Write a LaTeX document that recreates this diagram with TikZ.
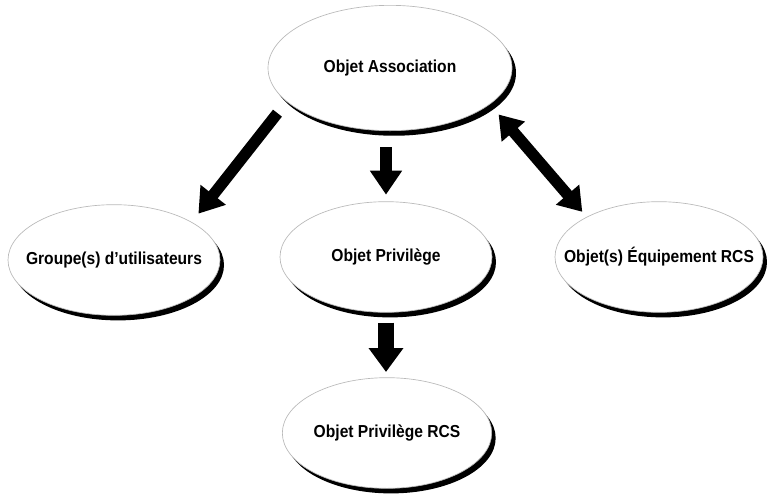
\documentclass[tikz,border=0pt]{standalone}
\usepackage{fontspec}
\setmainfont{Liberation Sans}
\usetikzlibrary{shapes.geometric, arrows.meta}

\newcommand{\narrow}[1]{\scalebox{0.9}[1]{#1}}

\begin{document}
\begin{tikzpicture}[x=0.75pt, y=-0.75pt, font=\fontsize{13}{15}\selectfont\bfseries,
		bubble/.style={ellipse, draw=gray!55, line width=0.5pt, fill=white, inner xsep=-30pt, inner ysep=0pt,
			preaction={fill=black, transform canvas={shift={(3pt,-3.8pt)}}}},
		bigarrow/.style={line width=8.5pt, -{Triangle[length=18pt, width=23pt]}},
		fatarrow/.style={line width=12pt, -{Triangle[length=18pt, width=25pt]}},
		twoarrow/.style={line width=8.5pt, {Triangle[length=17pt, width=22pt]}-{Triangle[length=17pt, width=22pt]}}]
	\useasboundingbox (0, 0) rectangle (767, 497);
	% Association object at the top, the three linked objects below it.
	\node[bubble, minimum width=183pt, minimum height=94pt] (assoc) at (390, 68) {\narrow{Objet Association}};
	\node[bubble, minimum width=159pt, minimum height=83pt] (groupe) at (114, 260) {\narrow{Groupe(s) d’utilisateurs}};
	\node[bubble, minimum width=159pt, minimum height=83pt] (priv) at (386, 257) {\narrow{Objet Privilège}};
	\node[bubble, minimum width=156pt, minimum height=83pt] (equip) at (659, 257) {\narrow{Objet(s) Équipement RCS}};
	\node[bubble, minimum width=157pt, minimum height=83pt] (privrcs) at (387, 433) {\narrow{Objet Privilège RCS}};
	% Links.
	\draw[bigarrow, shorten <=11pt, shorten >=8pt] (assoc.198) -- (groupe.26);
	\draw[bigarrow, shorten <=12pt, shorten >=5pt] (assoc.south -| priv.north) -- (priv.north);
	\draw[twoarrow, shorten <=10pt, shorten >=5pt] (assoc.340) -- (equip.151);
	\draw[fatarrow, shorten <=7.5pt, shorten >=4pt] (priv.south) -- (priv.south |- privrcs.north);
\end{tikzpicture}
\end{document}
